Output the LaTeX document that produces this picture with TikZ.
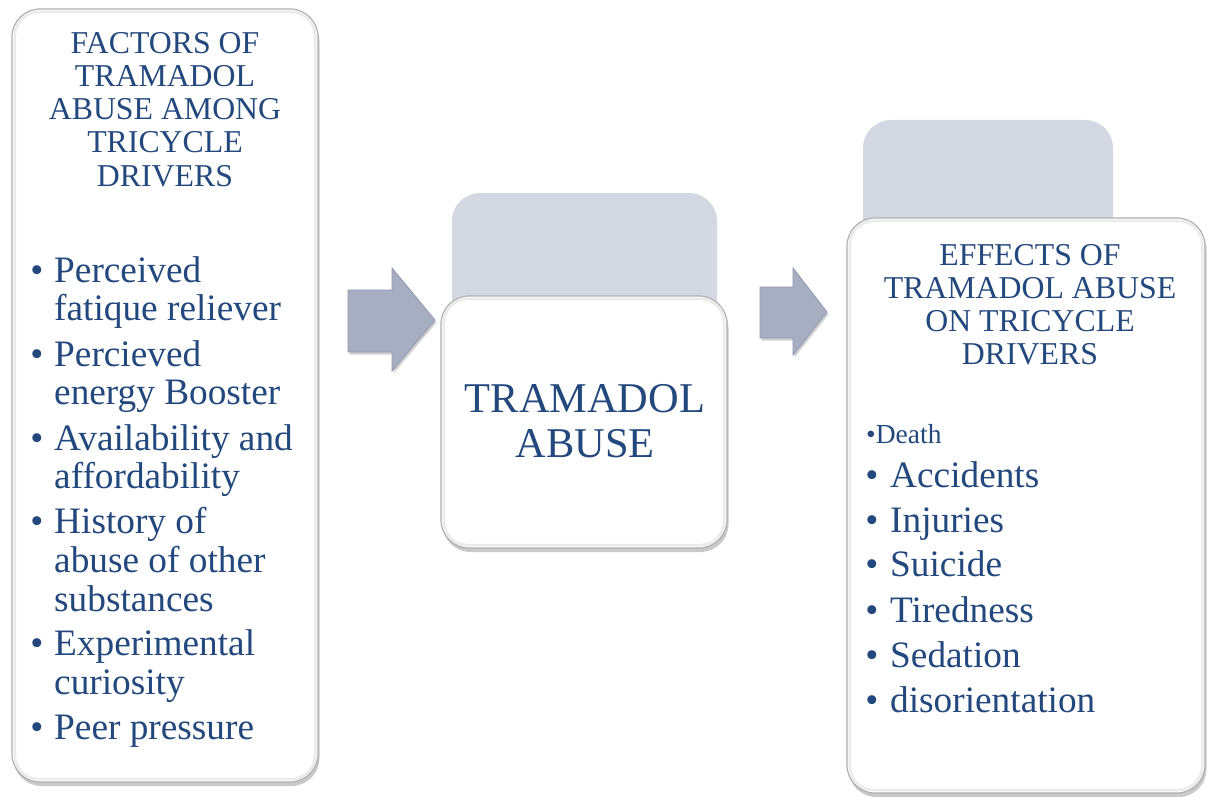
\documentclass[tikz,border=0pt]{standalone}
\usepackage{fontspec}
\setmainfont{Liberation Serif}
\usetikzlibrary{shadows}
\definecolor{txt}{RGB}{35,72,125}
\definecolor{backgray}{RGB}{212,216,226}
\definecolor{arrowfill}{RGB}{168,174,194}
\definecolor{arrowedge}{RGB}{145,152,176}
\definecolor{boxedge}{RGB}{175,175,175}
\tikzset{
  whitebox/.style={draw=boxedge, line width=1.2pt, fill=white, rounded corners=28pt, inner sep=0pt,
    drop shadow={shadow xshift=1.5pt, shadow yshift=-4pt, opacity=0.35, fill=black!60}},
  innerbevel/.style={draw=black!8, line width=2.5pt, rounded corners=24pt},
  backbox/.style={fill=backgray, rounded corners=28pt, inner sep=0pt},
  blockarrow/.style={fill=arrowfill, draw=arrowedge, line width=0.8pt, line join=miter,
    drop shadow={shadow xshift=1.5pt, shadow yshift=-2.5pt, opacity=0.3, fill=black!60}},
  title/.style={text=txt, font=\fontsize{31.8}{33}\selectfont, anchor=base, inner sep=0pt},
  bigtitle/.style={text=txt, font=\fontsize{42.4}{45}\selectfont, anchor=base, inner sep=0pt},
  item/.style={text=txt, font=\fontsize{37.3}{38}\selectfont, anchor=base west, inner sep=0pt},
  bullet/.style={text=txt, font=\fontsize{37.3}{38}\selectfont, anchor=base, inner sep=0pt},
  smallitem/.style={text=txt, font=\fontsize{27.5}{30}\selectfont, anchor=base west, inner sep=0pt},
}
\begin{document}
\begin{tikzpicture}[x=1pt,y=-1pt]
\useasboundingbox[fill=white] (0,0) rectangle (1207,797);

% back boxes
\node[backbox, minimum width=265pt, minimum height=227pt] (midback) at (584.5,306.5) {};
\node[backbox, minimum width=250pt, minimum height=230pt] (rightback) at (988,235) {};

% block arrows
\coordinate (a1) at (348,290);
\draw[blockarrow] (a1) -- (392,290) -- (392,268) -- (435,320) -- (392,371) -- (392,352) -- (348,352) -- cycle;
\coordinate (a2) at (760,287);
\draw[blockarrow] (a2) -- (793,287) -- (793,268) -- (827,312) -- (793,355) -- (793,338) -- (760,338) -- cycle;

% white boxes
\node[whitebox, minimum width=306pt, minimum height=773pt] (left) at (165,395.5) {};
\node[whitebox, minimum width=286pt, minimum height=252pt] (mid) at (584,422) {};
\node[whitebox, minimum width=358pt, minimum height=575pt] (right) at (1026,505.5) {};
\draw[innerbevel] ([shift={(3.5pt,-3.5pt)}]left.north west) rectangle ([shift={(-3.5pt,3.5pt)}]left.south east);
\draw[innerbevel] ([shift={(3.5pt,-3.5pt)}]mid.north west) rectangle ([shift={(-3.5pt,3.5pt)}]mid.south east);
\draw[innerbevel] ([shift={(3.5pt,-3.5pt)}]right.north west) rectangle ([shift={(-3.5pt,3.5pt)}]right.south east);

% left title
\foreach \t [count=\i] in {FACTORS OF, TRAMADOL, ABUSE AMONG, TRICYCLE, DRIVERS}
  \node[title] (lt\i) at (165,21+33*\i) {\t};

% left list
\foreach \y/\b/\t [count=\i] in {282/1/Perceived, 320/0/fatique reliever, 366/1/Percieved,
    404/0/energy Booster, 450/1/Availability and, 488/0/affordability, 533/1/History of,
    572/0/abuse of other, 611/0/substances, 655/1/Experimental, 694/0/curiosity, 739/1/Peer pressure}{
  \node[item] (li\i) at (54,\y) {\t};
  \ifnum\b=1 \node[bullet] (lb\i) at (37,\y) {•}; \fi
}

% middle
\node[bigtitle] (m1) at (585,412) {TRAMADOL};
\node[bigtitle] (m2) at (585,457) {ABUSE};

% right title
\foreach \t [count=\i] in {EFFECTS OF, TRAMADOL ABUSE, ON TRICYCLE, DRIVERS}
  \node[title] (rt\i) at (1030,232+33*\i) {\t};

% right list
\node[smallitem] (death) at (866,443) {•Death};
\foreach \y/\t [count=\i] in {487/Accidents, 532/Injuries, 576/Suicide, 622/Tiredness, 667/Sedation, 712/disorientation}{
  \node[item] (ri\i) at (890,\y) {\t};
  \node[bullet] (rb\i) at (872,\y) {•};
}
\end{tikzpicture}
\end{document}
